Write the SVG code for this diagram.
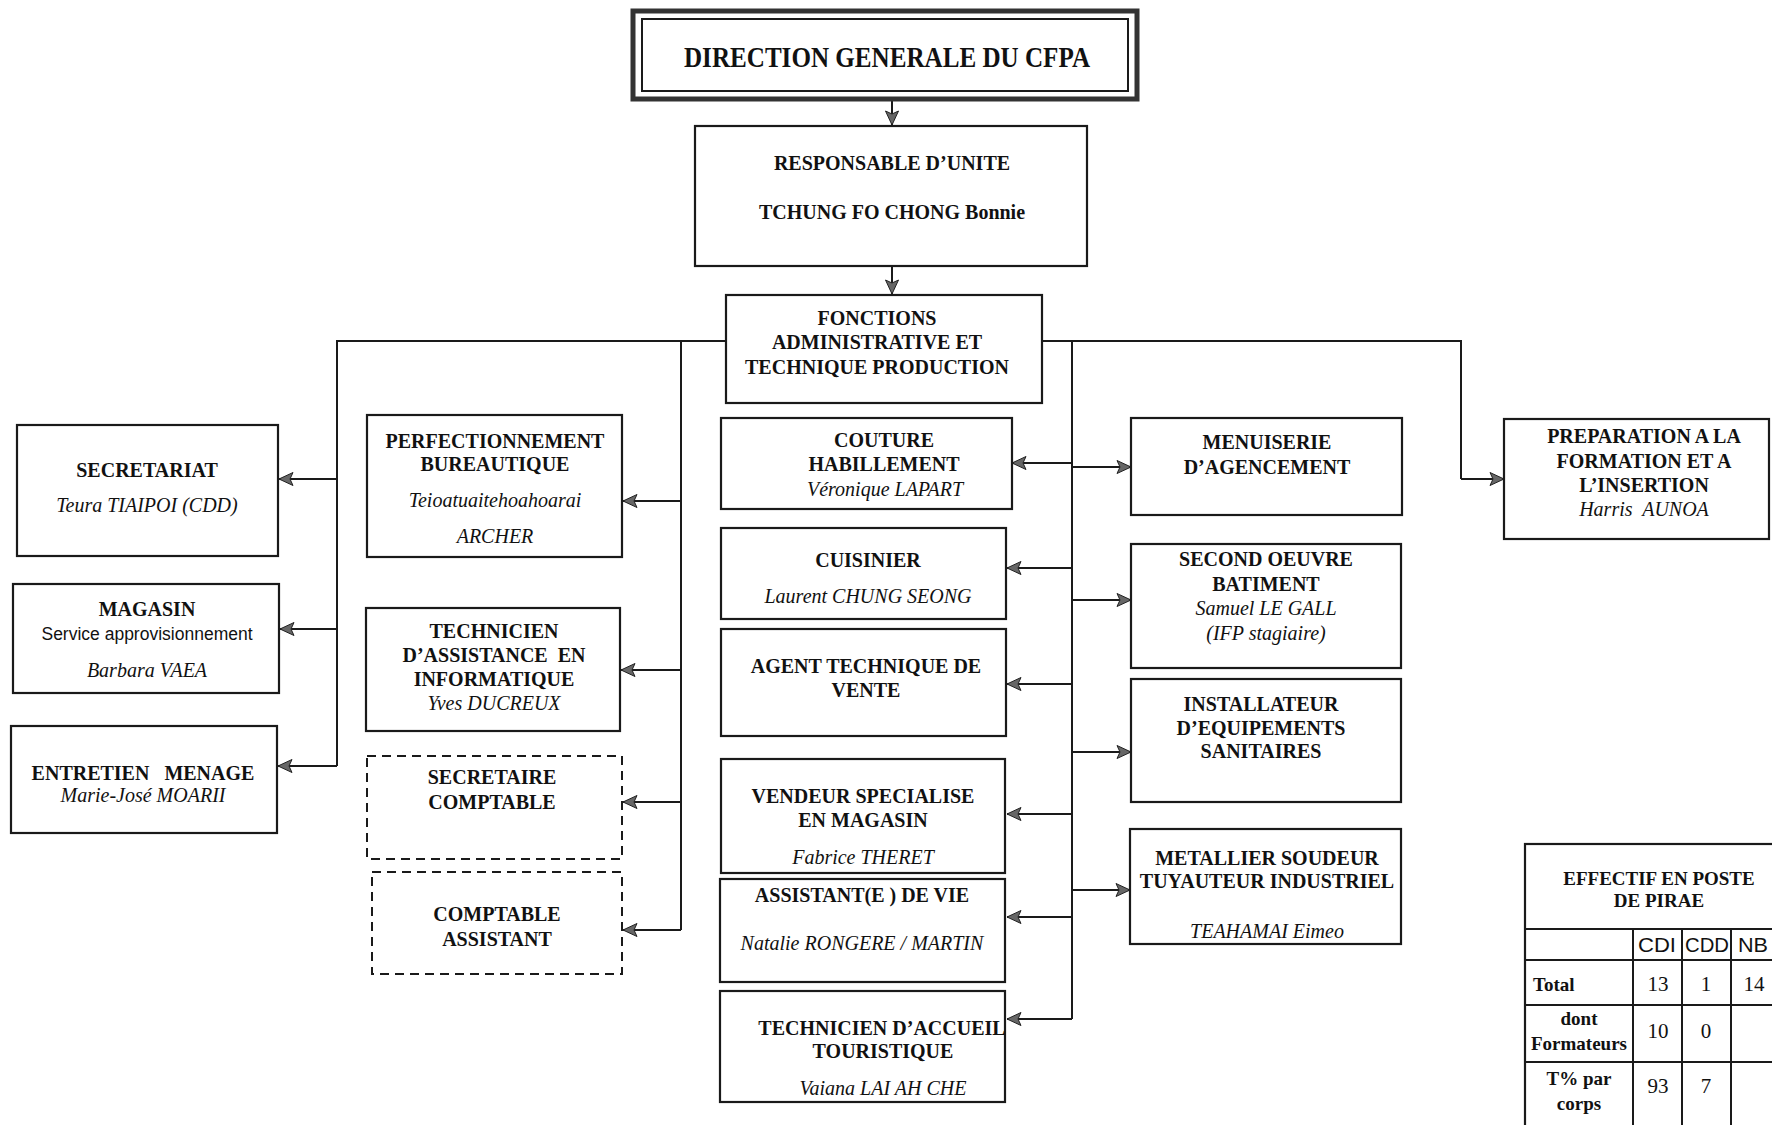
<svg xmlns="http://www.w3.org/2000/svg" width="1772" height="1125" viewBox="0 0 1772 1125">
<defs>
<marker id="ah" markerUnits="userSpaceOnUse" markerWidth="16" markerHeight="16" refX="15" refY="8" orient="auto">
<path d="M1,1.5 L15,8 L1,14.5 L4,8 z" fill="#666" stroke="#222" stroke-width="1"/>
</marker>
<style>
.box{fill:#fff;stroke:#1a1a1a;stroke-width:2.2}
.dash{fill:#fff;stroke:#1a1a1a;stroke-width:2;stroke-dasharray:9 6}
.ln{fill:none;stroke:#1a1a1a;stroke-width:2}
.arr{fill:none;stroke:#1a1a1a;stroke-width:2;marker-end:url(#ah)}
.h{font-family:"Liberation Serif",serif;font-weight:bold;font-size:20px;fill:#111;text-anchor:middle}
.n{font-family:"Liberation Serif",serif;font-style:italic;font-size:20px;fill:#111;text-anchor:middle}
.s{font-family:"Liberation Sans",sans-serif;font-size:17.5px;fill:#111;text-anchor:middle}
.t{font-family:"Liberation Serif",serif;font-weight:bold;font-size:19px;fill:#111;text-anchor:middle}
.tn{font-family:"Liberation Serif",serif;font-size:21px;fill:#111;text-anchor:middle}
.ts{font-family:"Liberation Sans",sans-serif;font-size:21px;fill:#111;text-anchor:middle}
</style>
</defs>
<rect width="1772" height="1125" fill="#fff"/>

<g id="connectors">
<line class="arr" x1="892" y1="100" x2="892" y2="125"/>
<line class="arr" x1="892" y1="266" x2="892" y2="294"/>
<polyline class="ln" points="725,341 337,341 337,766"/>
<line class="arr" x1="337" y1="479" x2="279" y2="479"/>
<line class="arr" x1="337" y1="629" x2="280" y2="629"/>
<line class="arr" x1="337" y1="766" x2="278" y2="766"/>
<line class="ln" x1="681" y1="341" x2="681" y2="930"/>
<line class="arr" x1="681" y1="501" x2="623" y2="501"/>
<line class="arr" x1="681" y1="670" x2="621" y2="670"/>
<line class="arr" x1="681" y1="802" x2="623" y2="802"/>
<line class="arr" x1="681" y1="930" x2="623" y2="930"/>
<polyline class="ln" points="1042,341 1461,341 1461,479"/>
<line class="arr" x1="1461" y1="479" x2="1504" y2="479"/>
<line class="ln" x1="1072" y1="341" x2="1072" y2="1019"/>
<line class="arr" x1="1072" y1="463" x2="1012" y2="463"/>
<line class="arr" x1="1072" y1="568" x2="1007" y2="568"/>
<line class="arr" x1="1072" y1="684" x2="1007" y2="684"/>
<line class="arr" x1="1072" y1="814" x2="1007" y2="814"/>
<line class="arr" x1="1072" y1="917" x2="1007" y2="917"/>
<line class="arr" x1="1072" y1="1019" x2="1007" y2="1019"/>
<line class="arr" x1="1072" y1="467" x2="1131" y2="467"/>
<line class="arr" x1="1072" y1="600" x2="1131" y2="600"/>
<line class="arr" x1="1072" y1="752" x2="1131" y2="752"/>
<line class="arr" x1="1072" y1="890" x2="1130" y2="890"/>
</g>

<g id="direction">
<rect x="633" y="11" width="504" height="88" fill="#fff" stroke="#333" stroke-width="5"/>
<rect x="642" y="19" width="486" height="72" fill="none" stroke="#1a1a1a" stroke-width="2"/>
<text x="887" y="67" font-family="Liberation Serif, serif" font-weight="bold" font-size="29" fill="#111" text-anchor="middle" textLength="406" lengthAdjust="spacingAndGlyphs">DIRECTION GENERALE DU CFPA</text>
</g>

<g id="responsable">
<rect class="box" x="695" y="126" width="392" height="140"/>
<text class="h" x="892" y="170">RESPONSABLE D’UNITE</text>
<text class="h" x="892" y="219">TCHUNG FO CHONG Bonnie</text>
</g>

<g id="fonctions">
<rect class="box" x="726" y="295" width="316" height="108" stroke-width="3"/>
<text class="h" x="877" y="325">FONCTIONS</text>
<text class="h" x="877" y="349">ADMINISTRATIVE ET</text>
<text class="h" x="877" y="374">TECHNIQUE PRODUCTION</text>
</g>

<g id="secretariat">
<rect class="box" x="17" y="425" width="261" height="131"/>
<text class="h" x="147" y="477">SECRETARIAT</text>
<text class="n" x="147" y="512">Teura TIAIPOI (CDD)</text>
</g>

<g id="magasin">
<rect class="box" x="13" y="584" width="266" height="109"/>
<text class="h" x="147" y="616">MAGASIN</text>
<text class="s" x="147" y="640">Service approvisionnement</text>
<text class="n" x="147" y="677">Barbara VAEA</text>
</g>

<g id="entretien">
<rect class="box" x="11" y="726" width="266" height="107"/>
<text class="h" x="143" y="780" xml:space="preserve">ENTRETIEN   MENAGE</text>
<text class="n" x="143" y="802">Marie-José MOARII</text>
</g>

<g id="perfectionnement">
<rect class="box" x="367" y="415" width="255" height="142"/>
<text class="h" x="495" y="448">PERFECTIONNEMENT</text>
<text class="h" x="495" y="471">BUREAUTIQUE</text>
<text class="n" x="495" y="507">Teioatuaitehoahoarai</text>
<text class="n" x="495" y="543">ARCHER</text>
</g>

<g id="technicien-informatique">
<rect class="box" x="366" y="608" width="254" height="123"/>
<text class="h" x="494" y="638">TECHNICIEN</text>
<text class="h" x="494" y="662" xml:space="preserve">D’ASSISTANCE  EN</text>
<text class="h" x="494" y="686">INFORMATIQUE</text>
<text class="n" x="494" y="710">Yves DUCREUX</text>
</g>

<g id="secretaire-comptable">
<rect class="dash" x="367" y="756" width="255" height="103"/>
<text class="h" x="492" y="784">SECRETAIRE</text>
<text class="h" x="492" y="809">COMPTABLE</text>
</g>

<g id="comptable-assistant">
<rect class="dash" x="372" y="872" width="250" height="102"/>
<text class="h" x="497" y="921">COMPTABLE</text>
<text class="h" x="497" y="946">ASSISTANT</text>
</g>

<g id="couture">
<rect class="box" x="721" y="418" width="291" height="91"/>
<text class="h" x="884" y="447">COUTURE</text>
<text class="h" x="884" y="471">HABILLEMENT</text>
<text class="n" x="885" y="496">Véronique LAPART</text>
</g>

<g id="cuisinier">
<rect class="box" x="721" y="528" width="285" height="91"/>
<text class="h" x="868" y="567">CUISINIER</text>
<text class="n" x="868" y="603">Laurent CHUNG SEONG</text>
</g>

<g id="agent-technique">
<rect class="box" x="721" y="629" width="285" height="107"/>
<text class="h" x="866" y="673">AGENT TECHNIQUE DE</text>
<text class="h" x="866" y="697">VENTE</text>
</g>

<g id="vendeur">
<rect class="box" x="721" y="759" width="284" height="114"/>
<text class="h" x="863" y="803">VENDEUR SPECIALISE</text>
<text class="h" x="863" y="827">EN MAGASIN</text>
<text class="n" x="863" y="864">Fabrice THERET</text>
</g>

<g id="assistant-vie">
<rect class="box" x="720" y="879" width="285" height="103"/>
<text class="h" x="862" y="902">ASSISTANT(E ) DE VIE</text>
<text class="n" x="862" y="950">Natalie RONGERE / MARTIN</text>
</g>

<g id="technicien-accueil">
<rect class="box" x="720" y="991" width="285" height="111"/>
<text class="h" x="882" y="1035">TECHNICIEN D’ACCUEIL</text>
<text class="h" x="883" y="1058">TOURISTIQUE</text>
<text class="n" x="883" y="1095">Vaiana LAI AH CHE</text>
</g>

<g id="menuiserie">
<rect class="box" x="1131" y="418" width="271" height="97"/>
<text class="h" x="1267" y="449">MENUISERIE</text>
<text class="h" x="1267" y="474">D’AGENCEMENT</text>
</g>

<g id="second-oeuvre">
<rect class="box" x="1131" y="544" width="270" height="124"/>
<text class="h" x="1266" y="566">SECOND OEUVRE</text>
<text class="h" x="1266" y="591">BATIMENT</text>
<text class="n" x="1266" y="615">Samuel LE GALL</text>
<text class="n" x="1266" y="640">(IFP stagiaire)</text>
</g>

<g id="installateur">
<rect class="box" x="1131" y="679" width="270" height="123"/>
<text class="h" x="1261" y="711">INSTALLATEUR</text>
<text class="h" x="1261" y="735">D’EQUIPEMENTS</text>
<text class="h" x="1261" y="758">SANITAIRES</text>
</g>

<g id="metallier">
<rect class="box" x="1130" y="829" width="271" height="115"/>
<text class="h" x="1267" y="865">METALLIER SOUDEUR</text>
<text class="h" x="1267" y="888">TUYAUTEUR INDUSTRIEL</text>
<text class="n" x="1267" y="938">TEAHAMAI Eimeo</text>
</g>

<g id="preparation">
<rect class="box" x="1504" y="419" width="265" height="120"/>
<text class="h" x="1644" y="443">PREPARATION A LA</text>
<text class="h" x="1644" y="468">FORMATION ET A</text>
<text class="h" x="1644" y="492">L’INSERTION</text>
<text class="n" x="1644" y="516" xml:space="preserve">Harris  AUNOA</text>
</g>

<g id="effectif-table">
<rect x="1525" y="844" width="260" height="290" fill="#fff" stroke="#1a1a1a" stroke-width="2.2"/>
<line class="ln" x1="1525" y1="929" x2="1772" y2="929"/>
<line class="ln" x1="1525" y1="960" x2="1772" y2="960"/>
<line class="ln" x1="1525" y1="1005" x2="1772" y2="1005"/>
<line class="ln" x1="1525" y1="1062" x2="1772" y2="1062"/>
<line class="ln" x1="1633" y1="929" x2="1633" y2="1125"/>
<line class="ln" x1="1682" y1="929" x2="1682" y2="1125"/>
<line class="ln" x1="1731" y1="929" x2="1731" y2="1125"/>
<text class="t" x="1659" y="885">EFFECTIF EN POSTE</text>
<text class="t" x="1659" y="907">DE PIRAE</text>
<text class="ts" x="1657" y="952" textLength="38" lengthAdjust="spacingAndGlyphs">CDI</text>
<text class="ts" x="1707" y="952" textLength="44" lengthAdjust="spacingAndGlyphs">CDD</text>
<text class="ts" x="1753" y="952" textLength="30" lengthAdjust="spacingAndGlyphs">NB</text>
<text class="t" x="1533" y="991" style="text-anchor:start">Total</text>
<text class="tn" x="1658" y="991">13</text>
<text class="tn" x="1706" y="991">1</text>
<text class="tn" x="1754" y="991">14</text>
<text class="t" x="1579" y="1025">dont</text>
<text class="t" x="1579" y="1050">Formateurs</text>
<text class="tn" x="1658" y="1038">10</text>
<text class="tn" x="1706" y="1038">0</text>
<text class="t" x="1579" y="1085">T% par</text>
<text class="t" x="1579" y="1110">corps</text>
<text class="tn" x="1658" y="1093">93</text>
<text class="tn" x="1706" y="1093">7</text>
</g>
</svg>
